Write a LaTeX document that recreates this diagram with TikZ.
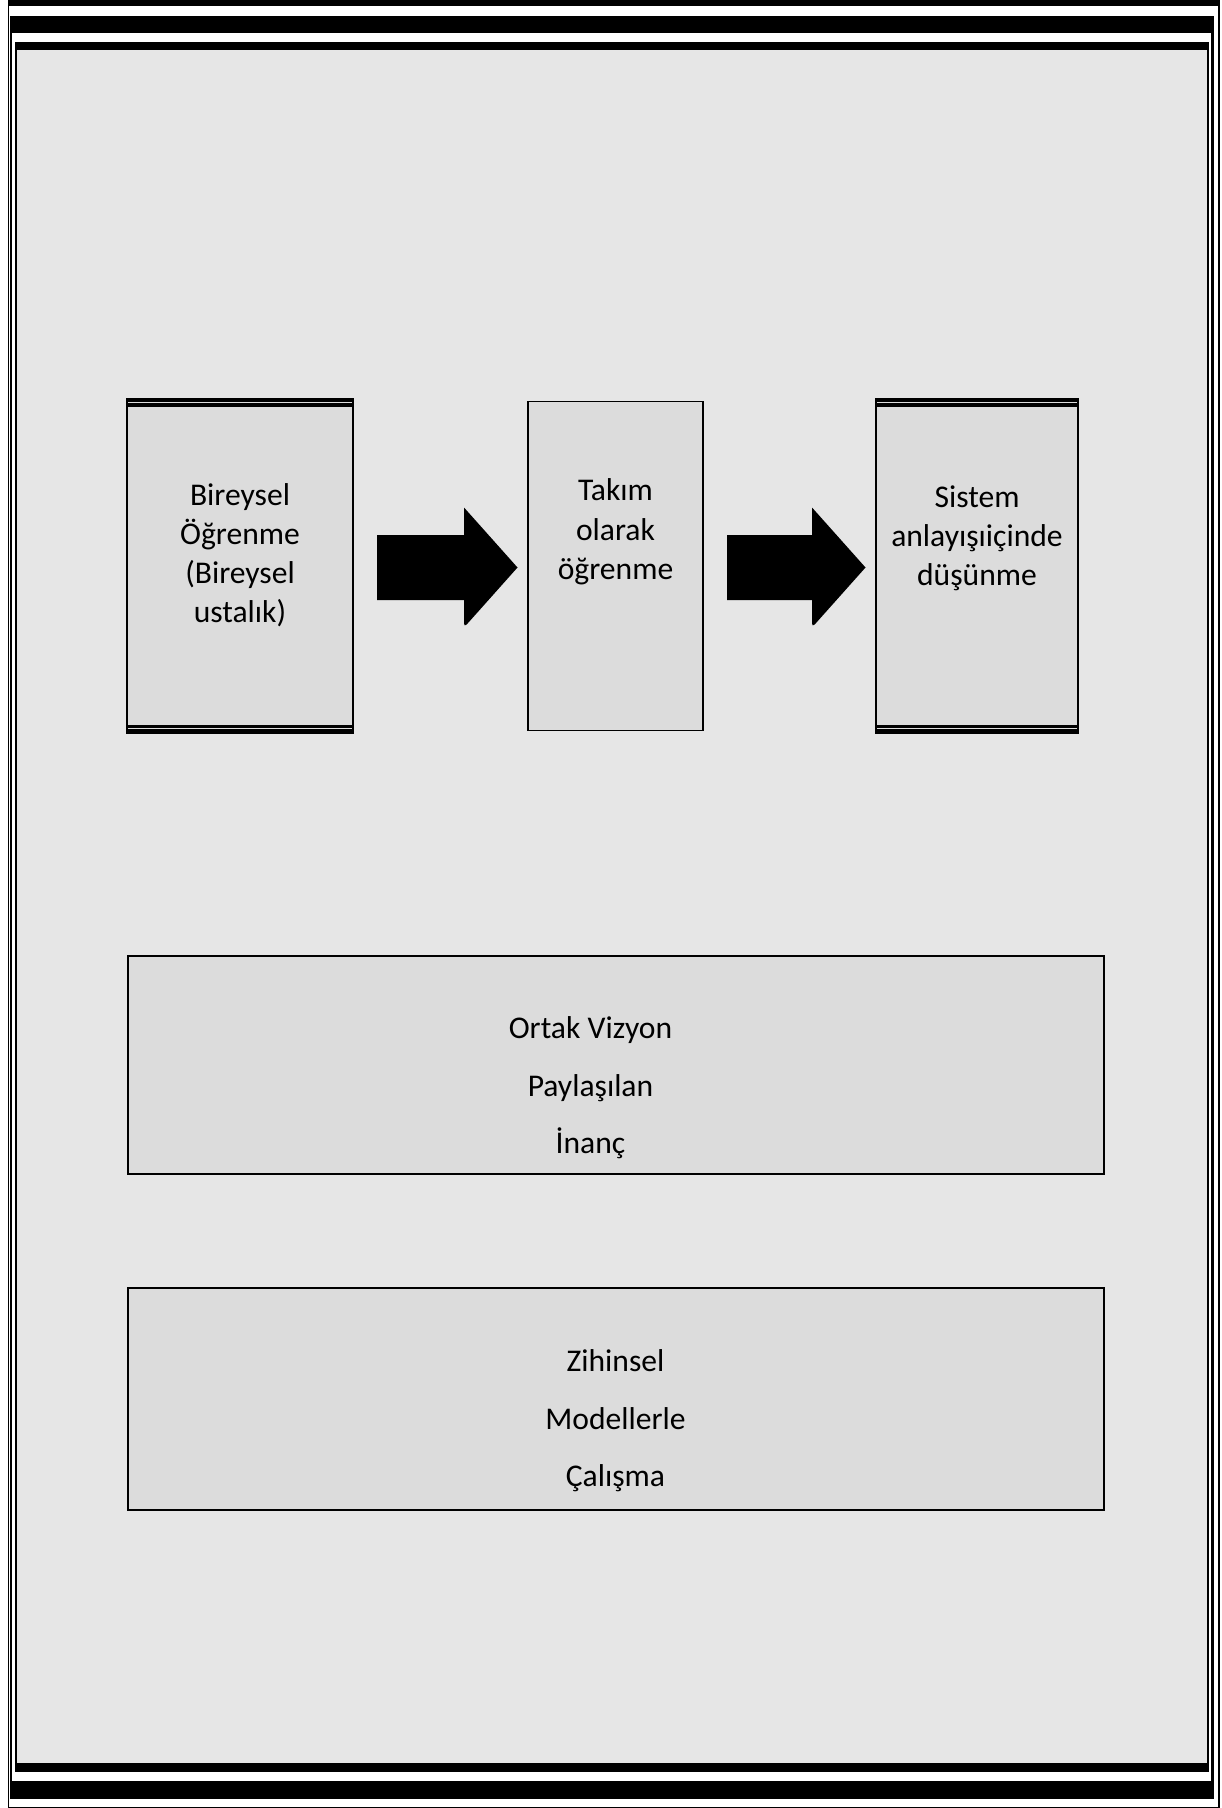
\documentclass[tikz,border=0pt]{standalone}
\usepackage{fontspec}
\setmainfont{Carlito}
\usepackage{xcolor}
\usepackage{tikz}
\usetikzlibrary{positioning,calc}
\definecolor{pagegray}{HTML}{E6E6E6}
\definecolor{boxgray}{HTML}{DCDCDC}
\tikzset{
    stagebox/.style={
        draw,
        line width=0.9pt,
        fill=boxgray,
        minimum width=113pt,
        minimum height=167pt,
        inner sep=0pt,
        outer sep=0pt
    },
    panelbox/.style={
        draw,
        line width=1pt,
        fill=boxgray,
        minimum width=488pt,
        minimum height=109pt,
        inner sep=0pt,
        outer sep=0pt
    },
    stagetext/.style={
        align=center,
        inner sep=0pt,
        font=\fontsize{15.8pt}{19.6pt}\selectfont
    },
    paneltext/.style={
        align=center,
        inner sep=0pt,
        font=\fontsize{15.8pt}{28.6pt}\selectfont
    }
}
\newcommand{\ruledtops}[1]{%
    \draw[line width=1.5pt] ([yshift=-0.5pt]#1.north west) -- ([yshift=-0.5pt]#1.north east);
    \draw[line width=2pt] ([yshift=-3pt]#1.north west) -- ([yshift=-3pt]#1.north east);
    \draw[line width=1.5pt] ([yshift=3.5pt]#1.south west) -- ([yshift=3.5pt]#1.south east);
    \draw[line width=2.2pt] ([yshift=0.75pt]#1.south west) -- ([yshift=0.75pt]#1.south east);
}
\newcommand{\blockarrow}[2]{%
    \fill ($(#1.east)+(24,-31)$) -- ($(#2.west)+(-64,-31)$) -- ($(#2.west)+(-64,-58.5)$)
        -- ($(#2.west)+(-10.5,1.5)$) [rounded corners=2pt] -- ($(#2.west)+(-64,61.5)$) [sharp corners]
        -- ($(#2.west)+(-64,34)$) -- ($(#1.east)+(24,34)$) -- cycle;
}

\begin{document}
\begin{tikzpicture}[x=0.5pt, y=-0.5pt]
        \useasboundingbox (0,0) rectangle (1221,1808);

        % page border
        \fill[white] (0,0) rectangle (1221,1808);
        \fill[black] (7.5,0) rectangle (1219.5,1808);
        \fill[white] (8.5,6) rectangle (1218,1807);
        \fill[black] (9.5,16) rectangle (1214,1799);
        \fill[white] (12,33) rectangle (1211,1781);
        \fill[black] (14.5,42) rectangle (1209,1772);
        \fill[pagegray] (17,50) rectangle (1207,1763);

        \node[stagebox] (indiv) at (240,566) {};
        \node[stagebox, minimum width=87.5pt, minimum height=164.5pt, right=87.5pt of indiv] (team) {};
        \node[stagebox, minimum width=101pt, right=86.5pt of team] (system) {};
        \ruledtops{indiv}
        \ruledtops{system}

        \node[stagetext, below=42pt of indiv.north] (indivtxt) {Bireysel\\Öğrenme\\(Bireysel\\ustalık)};
        \node[stagetext, below=38.5pt of team.north] (teamtxt) {Takım\\olarak\\öğrenme};
        \node[stagetext, below=43pt of system.north] (systemtxt) {Sistem\\anlayışıiçinde\\düşünme};

        \blockarrow{indiv}{team}
        \blockarrow{team}{system}

        \node[panelbox, below=112.5pt of team] (vision) {};
        \node[panelbox, minimum height=111pt, below=57pt of vision] (models) {};

        \node[paneltext, below=30.5pt of vision.north, xshift=-12.5pt] (visiontxt) {Ortak Vizyon\\Paylaşılan\\İnanç};
        \node[paneltext, below=31pt of models.north] (modelstxt) {Zihinsel\\Modellerle\\Çalışma};
    \end{tikzpicture}
\end{document}
